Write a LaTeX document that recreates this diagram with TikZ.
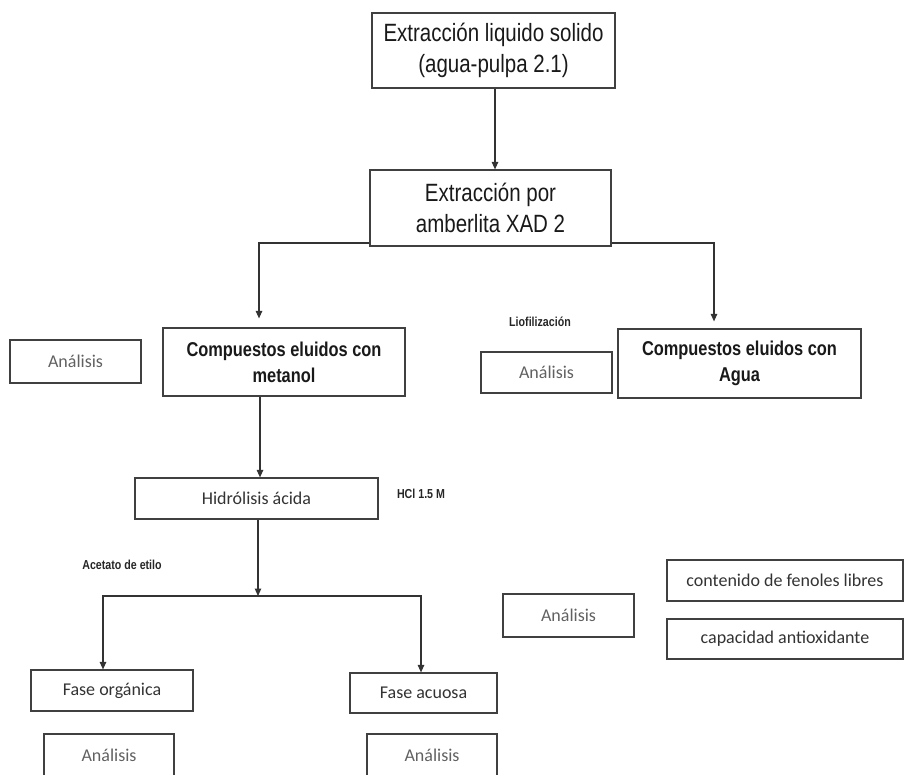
\documentclass[tikz,border=0pt]{standalone}
\usepackage{fontspec}
\setmainfont{Carlito}
\newfontfamily\nar[FakeStretch=0.82]{Liberation Sans}
\usetikzlibrary{arrows.meta}
\begin{document}
\begin{tikzpicture}[x=1pt,y=-1pt,
  box/.style={draw=black!75,line width=1.2pt,rectangle,inner sep=0pt,align=center},
  bigtxt/.style={font=\nar\fontsize{25}{31}\selectfont,text=black!90},
  midtxt/.style={font=\nar\bfseries\fontsize{20}{26}\selectfont,text=black!90},
  caltxt/.style={font=\fontsize{18}{22}\selectfont,text=black!80},
  anatxt/.style={font=\fontsize{18}{22}\selectfont,text=black!62},
  smalltxt/.style={font=\nar\bfseries\fontsize{13}{16}\selectfont,text=black!85},
  ln/.style={draw=black!80,line width=1.1pt},
  arr/.style={ln,-{Triangle[width=6.5pt,length=7.5pt]}}
]
\path[use as bounding box] (0,0) rectangle (904,774);
\clip (0,0) rectangle (904,774);

% nodes
\node[box,bigtxt,minimum width=243pt,minimum height=75pt] (b1) at (493.5,50.5) {Extracción liquido solido\\(agua-pulpa 2.1)};
\node[box,bigtxt,minimum width=241pt,minimum height=76pt] (b2) at (490.5,208) {Extracción por\\amberlita XAD 2};
\node[box,midtxt,minimum width=242pt,minimum height=68pt] (m1) at (284,362) {Compuestos eluidos con\\metanol};
\node[box,anatxt,minimum width=131pt,minimum height=43pt] (a1) at (75.5,361.5) {Análisis};
\node[box,midtxt,minimum width=243pt,minimum height=69pt] (w1) at (739.5,363.5) {Compuestos eluidos con\\Agua};
\node[box,anatxt,minimum width=131pt,minimum height=41pt] (a2) at (546.5,372.5) {Análisis};
\node[smalltxt] (lio) at (540,322) {Liofilización};
\node[box,caltxt,minimum width=243pt,minimum height=41pt] (hy) at (256.5,498.5) {Hidrólisis ácida};
\node[smalltxt] (hcl) at (421,494) {HCl 1.5 M};
\node[smalltxt] (ace) at (122,565) {Acetato de etilo};
\node[box,caltxt,minimum width=162pt,minimum height=41pt] (fo) at (112,690.5) {Fase orgánica};
\node[box,caltxt,minimum width=147pt,minimum height=40pt] (fa) at (423.5,693) {Fase acuosa};
\node[box,anatxt,minimum width=130pt,minimum height=43pt] (a3) at (109,755.5) {Análisis};
\node[box,anatxt,minimum width=130pt,minimum height=43pt] (a4) at (432,755.5) {Análisis};
\node[box,anatxt,minimum width=131pt,minimum height=43pt] (a5) at (568.5,615.5) {Análisis};
\node[box,caltxt,minimum width=236pt,minimum height=41pt] (cf) at (785,580.5) {contenido de fenoles libres};
\node[box,caltxt,minimum width=236pt,minimum height=40pt] (ca) at (785,639) {capacidad antioxidante};

% helper coordinates
\coordinate (c1) at (495,0);
\coordinate (bl) at (259,243);
\coordinate (br) at (714,243);
\coordinate (c3) at (260,0);
\coordinate (c4) at (258,0);
\coordinate (jn) at (258,596);
\coordinate (jl) at (103,596);
\coordinate (jr) at (421,596);

% connectors
\draw[arr] (b1.south -| c1) -- (b2.north -| c1);
\draw[arr,shorten >=9pt] (b2.west |- bl) -| (m1.north -| bl);
\draw[arr,shorten >=7pt] (b2.east |- br) -| (w1.north -| br);
\draw[arr] (m1.south -| c3) -- (hy.north -| c3);
\draw[arr] (hy.south -| c4) -- (jn);
\draw[arr] (jn) -- (jl) -- (fo.north -| jl);
\draw[arr] (jn) -- (jr) -- (fa.north -| jr);
\end{tikzpicture}
\end{document}
